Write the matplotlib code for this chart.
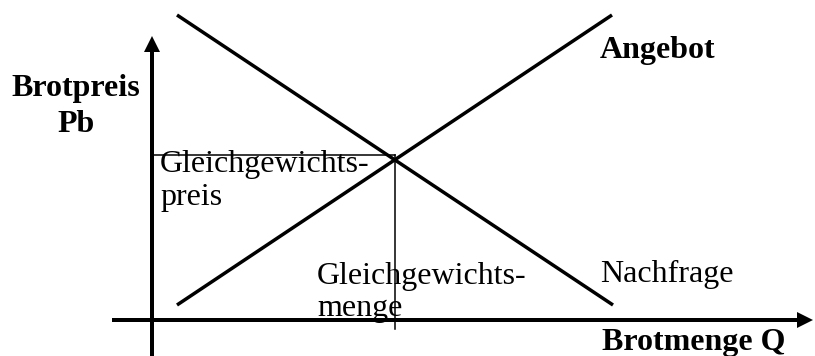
import matplotlib.pyplot as plt

# chart coordinates: origin where the two axes cross (roughly pixel units)
demand_q = [25, 461]
demand_p = [305, 15]
supply_q = [25, 460]
supply_p = [15, 305]
eq_q = 243
eq_p = 165

plt.rcParams['font.family'] = ['Liberation Serif', 'DejaVu Serif']

fig = plt.figure(figsize=(8.15, 3.56), dpi=100)
ax = fig.add_axes([0, 0, 1, 1])
ax.set_xlim(-152, 663)
ax.set_ylim(-36, 320)
ax.axis('off')

# axes with arrow heads
ax.arrow(0, -36, 0, 320, width=4, head_width=16, head_length=16,
         length_includes_head=True, color='black', lw=0)
ax.arrow(-40, 0, 701, 0, width=4, head_width=16, head_length=16,
         length_includes_head=True, color='black', lw=0)

# supply and demand
ax.plot(demand_q, demand_p, color='black', lw=2.5, solid_capstyle='butt')
ax.plot(supply_q, supply_p, color='black', lw=2.5, solid_capstyle='butt')

# equilibrium guide lines
ax.plot([0, eq_q], [eq_p, eq_p], color='black', lw=1.1)
ax.plot([eq_q, eq_q], [eq_p, -9], color='black', lw=1.1)

fs = 23
ax.text(-76, 224, 'Brotpreis', fontsize=fs, fontweight='bold', ha='center', va='baseline')
ax.text(-76, 188, 'Pb', fontsize=fs, fontweight='bold', ha='center', va='baseline')
ax.text(448, 262, 'Angebot', fontsize=fs, fontweight='bold', ha='left', va='baseline')
ax.text(450, -30, 'Brotmenge Q', fontsize=fs, fontweight='bold', ha='left', va='baseline')

ax.text(8, 148, 'Gleichgewichts-', fontsize=fs, ha='left', va='baseline')
ax.text(8, 115, 'preis', fontsize=fs, ha='left', va='baseline')
ax.text(165, 36, 'Gleichgewichts-', fontsize=fs, ha='left', va='baseline')
ax.text(165, 4, 'menge', fontsize=fs, ha='left', va='baseline')
ax.text(448, 38, 'Nachfrage', fontsize=fs, ha='left', va='baseline')

fig.savefig('out.png', dpi=100)
